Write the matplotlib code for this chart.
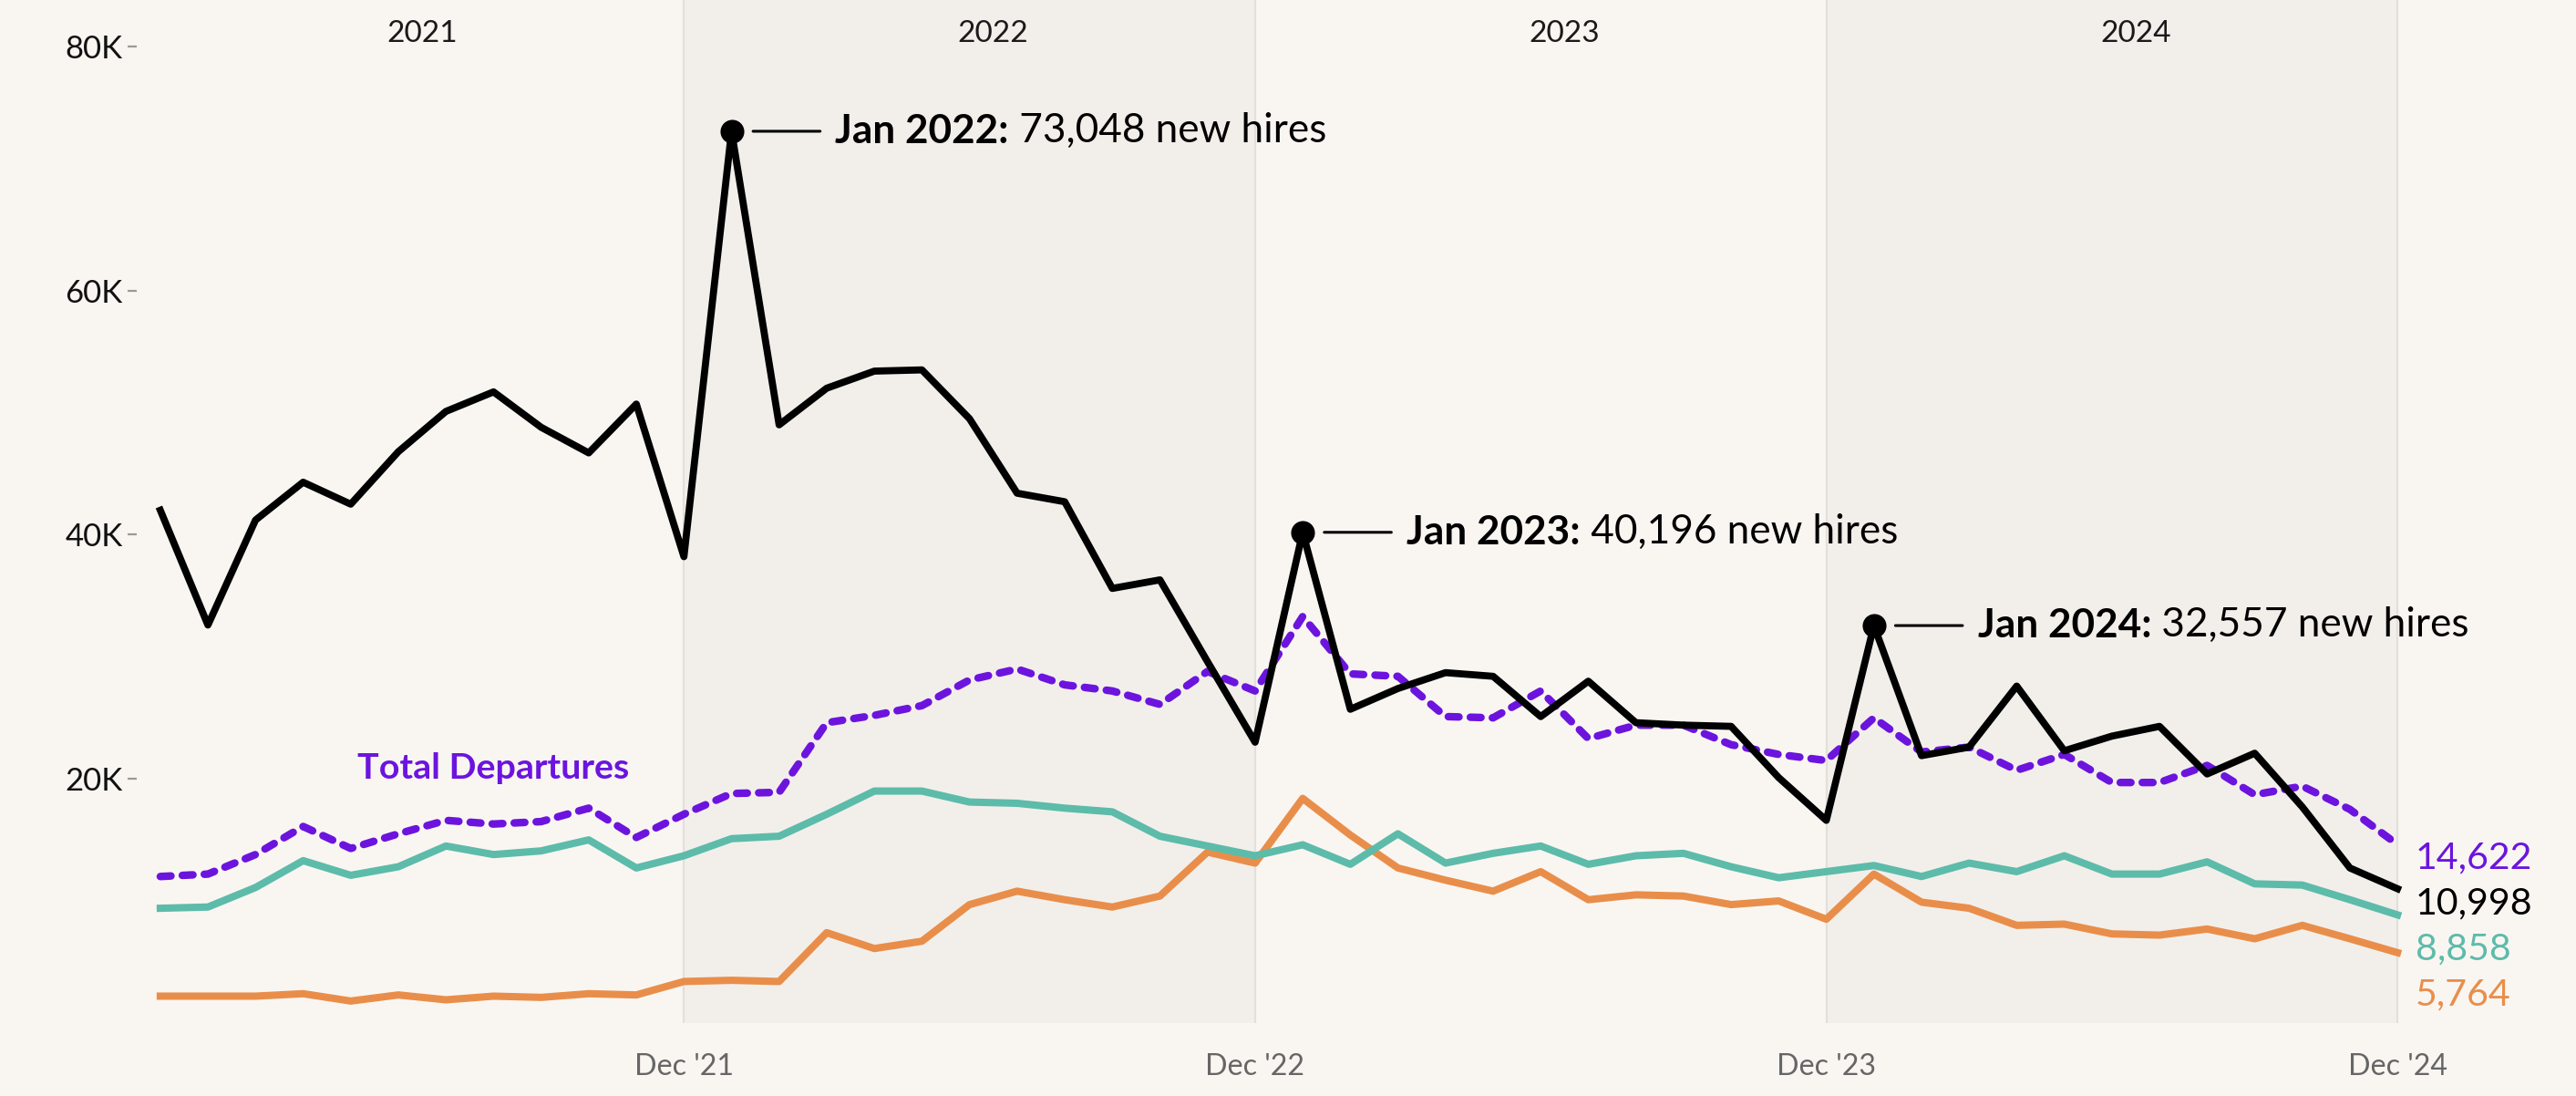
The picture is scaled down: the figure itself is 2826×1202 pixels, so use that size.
import matplotlib
matplotlib.use("Agg")
import matplotlib.pyplot as plt
import numpy as np

# ---------------- data ----------------
tick_pos = [11, 23, 35, 47]
tick_labels = ["Dec '21", "Dec '22", "Dec '23", "Dec '24"]
years = ["2021", "2022", "2023", "2024"]
ytick_vals = [20000, 40000, 60000, 80000]
ytick_labels = ["20K", "40K", "60K", "80K"]

new_hires = [42.0, 32.6, 41.2, 44.3, 42.5, 46.8, 50.1, 51.7, 48.8, 46.7, 50.7, 38.2,
             73.048, 49.0, 52.0, 53.4, 53.5, 49.5, 43.4, 42.7, 35.6, 36.3, 29.6, 23.0,
             40.196, 25.7, 27.4, 28.7, 28.4, 25.1, 28.0, 24.6, 24.4, 24.3, 20.1, 16.6,
             32.557, 21.9, 22.6, 27.6, 22.3, 23.5, 24.3, 20.4, 22.1, 17.7, 12.7, 10.998]
total_departures = [12.0, 12.2, 13.8, 16.1, 14.3, 15.5, 16.6, 16.3, 16.5, 17.6, 15.2, 17.1,
                    18.8, 18.9, 24.6, 25.2, 26.0, 28.1, 29.0, 27.7, 27.2, 26.1, 28.8, 27.2,
                    33.3, 28.6, 28.4, 25.1, 25.0, 27.2, 23.3, 24.4, 24.4, 22.8, 22.0, 21.5,
                    25.0, 22.2, 22.6, 20.7, 22.0, 19.7, 19.7, 21.1, 18.7, 19.4, 17.5, 14.622]
teal_series = [9.4, 9.5, 11.1, 13.3, 12.1, 12.8, 14.5, 13.8, 14.1, 15.0, 12.7, 13.7,
               15.1, 15.3, 17.1, 19.0, 19.0, 18.1, 18.0, 17.6, 17.3, 15.3, 14.5, 13.7,
               14.6, 13.0, 15.5, 13.1, 13.9, 14.5, 13.0, 13.7, 13.9, 12.8, 11.9, 12.4,
               12.9, 12.0, 13.1, 12.4, 13.7, 12.2, 12.2, 13.2, 11.4, 11.3, 10.1, 8.858]
orange_series = [2.2, 2.2, 2.2, 2.4, 1.8, 2.3, 1.9, 2.2, 2.1, 2.4, 2.3, 3.4,
                 3.5, 3.4, 7.4, 6.1, 6.7, 9.7, 10.8, 10.1, 9.5, 10.4, 14.0, 13.1,
                 18.4, 15.4, 12.7, 11.7, 10.8, 12.4, 10.1, 10.5, 10.4, 9.7, 10.0, 8.5,
                 12.2, 9.9, 9.4, 8.0, 8.1, 7.3, 7.2, 7.7, 6.9, 8.0, 6.9, 5.764]
peak_idx = [12, 24, 36]
peak_labels = ["Jan 2022:", "Jan 2023:", "Jan 2024:"]

nh = np.array(new_hires) * 1000
td = np.array(total_departures) * 1000
te = np.array(teal_series) * 1000
orr = np.array(orange_series) * 1000
x = np.arange(len(nh))

# ---------------- style ----------------
BG = "#F9F6F2"
BAND = "#F2EFEB"
VLINE = "#E3E0DB"
BLACK = "#000000"
PURPLE = "#6C14DE"
TEAL = "#5DBBAA"
ORANGE = "#E98E4A"
FONT = "Lato"

plt.rcParams["font.family"] = [FONT, "DejaVu Sans"]

fig = plt.figure(figsize=(14.13, 6.01), dpi=200, facecolor=BG)
ax = fig.add_axes([0.053, 0.0666, 0.947, 0.9334])
ax.set_facecolor(BG)
ax.set_xlim(-0.5, 50.75)
ax.set_ylim(0, 83800)
for s in ax.spines.values():
    s.set_visible(False)

# year bands
ax.axvspan(11, 23, color=BAND, lw=0, zorder=0)
ax.axvspan(35, 47, color=BAND, lw=0, zorder=0)
for p in tick_pos:
    ax.axvline(p, color=VLINE, lw=0.8, zorder=0.5)
for k, y in enumerate(years):
    ax.text(12 * k + 5.5, 0.967, y, transform=ax.get_xaxis_transform(),
            ha="center", va="center", fontsize=12, fontweight="normal", color="#1A1A1A")

# lines
ax.plot(x, orr, color=ORANGE, lw=2.9, solid_joinstyle="round", zorder=2)
ax.plot(x, te, color=TEAL, lw=2.9, solid_joinstyle="round", zorder=2)
ax.plot(x, td, color=PURPLE, lw=3.0, linestyle=(0, (1.4, 1.5)), dash_capstyle="round", zorder=3)
ax.plot(x, nh, color=BLACK, lw=2.8, solid_joinstyle="round", zorder=4)

# peaks
for i, lab in zip(peak_idx, peak_labels):
    v = nh[i]
    ax.plot([i], [v], "o", color=BLACK, ms=8.4, zorder=5)
    ax.annotate("", xy=(i, v), xytext=(35, 0), textcoords="offset points",
                arrowprops=dict(arrowstyle="-", color=BLACK, lw=1.1, shrinkA=0, shrinkB=8.5))
    t1 = ax.annotate(lab, xy=(i, v), xytext=(41, 0), textcoords="offset points",
                     ha="left", va="center", fontsize=15.9, fontweight="bold", color=BLACK)
    ax.annotate(f" {v:,.0f} new hires", xy=(1, 0), xycoords=t1, ha="left", va="bottom",
                fontsize=15.9, color=BLACK)

# Total Departures label
ax.text(7.0, 20900, "Total Departures", ha="center", va="center", fontsize=14.2,
        fontweight="bold", color=PURPLE)

# end labels with collision avoidance
ends = [(td[-1], PURPLE), (nh[-1], BLACK), (te[-1], TEAL), (orr[-1], ORANGE)]
ends.sort(key=lambda e: -e[0])
gap = 3750
prev = None
for val, col in ends:
    ypos = val if prev is None else min(val, prev - gap)
    prev = ypos
    ax.annotate(f"{val:,.0f}", xy=(len(nh) - 1, ypos - 1070), xytext=(7, 0),
                textcoords="offset points", ha="left", va="center",
                fontsize=14.8, color=col)

# axes ticks
ax.set_xticks(tick_pos)
ax.set_xticklabels(tick_labels)
ax.tick_params(axis="x", length=0, pad=12, labelsize=11.6, labelcolor="#666666")
ax.set_yticks(ytick_vals)
ax.set_yticklabels(ytick_labels)
ax.tick_params(axis="y", length=3.5, width=0.8, color="#999999", pad=2,
               labelsize=12.5, labelcolor="#111111")

fig.savefig("out.png", dpi=200, facecolor=BG)
